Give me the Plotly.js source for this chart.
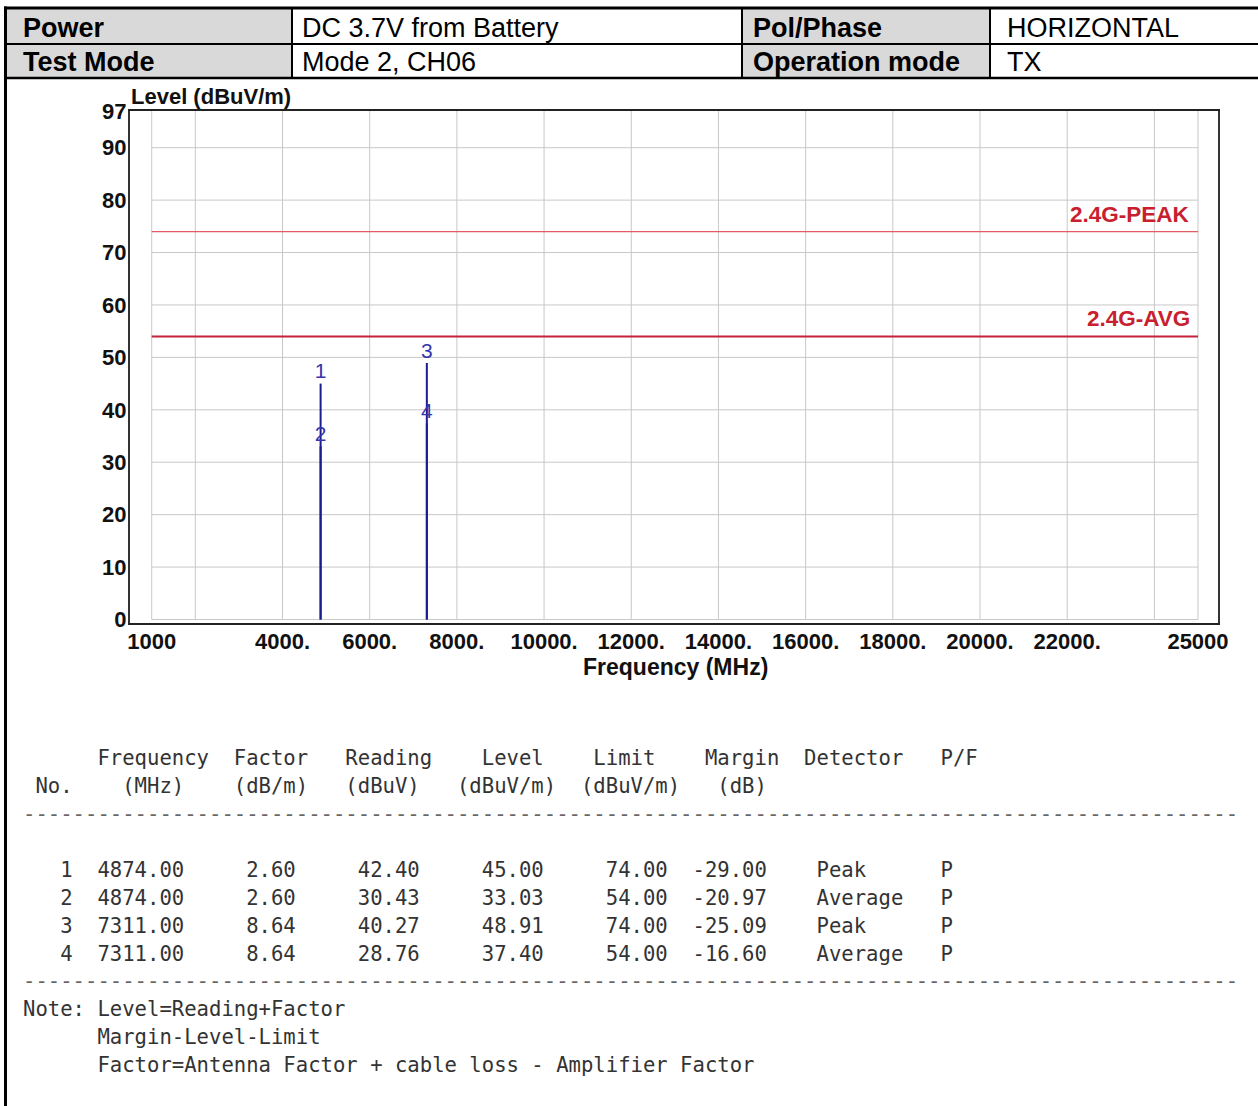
<!DOCTYPE html>
<html><head><meta charset="utf-8">
<script src="https://cdn.plot.ly/plotly-3.0.1.min.js"></script>
<style>html,body{margin:0;padding:0;background:#fff;} #chart{width:1258px;height:1106px;}</style>
</head><body><div id="chart"></div>
<script>
// ---------- data ----------
const markerNo = [1, 2, 3, 4];
const freq = [4874.00, 4874.00, 7311.00, 7311.00];
const factor = [2.60, 2.60, 8.64, 8.64];
const reading = [42.40, 30.43, 40.27, 28.76];
const level = [45.00, 33.03, 48.91, 37.40];
const limit = [74.00, 54.00, 74.00, 54.00];
const margin = [-29.00, -20.97, -25.09, -16.60];
const detector = ['Peak', 'Average', 'Peak', 'Average'];
const pf = ['P', 'P', 'P', 'P'];

const limitNames = ['2.4G-PEAK', '2.4G-AVG'];
const limitLevels = [74, 54];
const freqStart = 1000, freqStop = 25000;

const xTickVals = [1000, 4000, 6000, 8000, 10000, 12000, 14000, 16000, 18000, 20000, 22000, 25000];
const xTickText = ['1000', '4000.', '6000.', '8000.', '10000.', '12000.', '14000.', '16000.', '18000.', '20000.', '22000.', '25000'];
const xGridVals = [1000, 2000, 4000, 6000, 8000, 10000, 12000, 14000, 16000, 18000, 20000, 22000, 24000, 25000];
const yTickVals = [0, 10, 20, 30, 40, 50, 60, 70, 80, 90, 97];
const yTickText = ['0', '10', '20', '30', '40', '50', '60', '70', '80', '90', '97'];

const headerRows = [
  ['Power', 'DC 3.7V from Battery', 'Pol/Phase', 'HORIZONTAL'],
  ['Test Mode', 'Mode 2, CH06', 'Operation mode', 'TX']
];
const tableHead1 = ['Frequency', 'Factor', 'Reading', 'Level', 'Limit', 'Margin', 'Detector', 'P/F'];
const tableHead2 = ['No.', '(MHz)', '(dB/m)', '(dBuV)', '(dBuV/m)', '(dBuV/m)', '(dB)'];
const noteLines = ['Note: Level=Reading+Factor', '      Margin-Level-Limit', '      Factor=Antenna Factor + cable loss - Amplifier Factor'];

// ---------- layout geometry ----------
const W = 1258, H = 1106;
const PL = 130, PR = 1218, PT = 111, PB = 623;
const pw = PR - PL, ph = PB - PT;
const px = v => (v - PL) / pw;
const py = v => (PB - v) / ph;

const sans = 'Liberation Sans, Arial, sans-serif';
const mono = 'DejaVu Sans Mono, Liberation Mono, monospace';

// ---------- traces ----------
const traces = [];
for (let j = 0; j < limitLevels.length; j++) {
  traces.push({
    x: [freqStart, freqStop], y: [limitLevels[j], limitLevels[j]],
    mode: 'lines', hoverinfo: 'skip',
    line: {color: j === 0 ? '#e25c62' : '#c6203a', width: j === 0 ? 1.2 : 2}
  });
}
for (let i = 0; i < freq.length; i++) {
  traces.push({
    x: [freq[i], freq[i]], y: [0, level[i]],
    mode: 'lines', hoverinfo: 'skip',
    line: {color: '#1c1c92', width: 2}
  });
}
traces.push({
  x: freq, y: level, mode: 'text', text: markerNo.map(String),
  textposition: 'top center', hoverinfo: 'skip',
  textfont: {family: sans, size: 21, color: '#3535ae'}
});

// ---------- shapes ----------
const shapes = [];
for (const g of xGridVals) {
  shapes.push({type: 'line', xref: 'x', yref: 'y', x0: g, x1: g, y0: 0, y1: 97, layer: 'below', line: {color: '#c8c8c8', width: 1}});
}
for (const t of yTickVals.slice(0, -1)) {
  shapes.push({type: 'line', xref: 'x', yref: 'y', x0: freqStart, x1: freqStop, y0: t, y1: t, layer: 'below', line: {color: '#c8c8c8', width: 1}});
}

// header table
const colEdges = [6, 292, 742, 990, 1262];
const rowEdges = [9, 44, 78];
for (let r = 0; r < 2; r++) {
  for (const c of [0, 2]) {
    shapes.push({type: 'rect', xref: 'paper', yref: 'paper', x0: px(colEdges[c]), x1: px(colEdges[c + 1]), y0: py(rowEdges[r]), y1: py(rowEdges[r + 1]), fillcolor: '#d9d9d9', line: {width: 0}, layer: 'below'});
  }
}
const blk = (x0, y0, x1, y1, w) => shapes.push({type: 'line', xref: 'paper', yref: 'paper', x0: px(x0), x1: px(x1), y0: py(y0), y1: py(y1), line: {color: '#000', width: w}});
blk(4, 8, 1262, 8, 3);
blk(6, 44, 1262, 44, 2);
blk(6, 78, 1262, 78, 2.5);
for (const c of [292, 742, 990]) blk(c, 8, c, 78, 2);
blk(5.5, 6.5, 5.5, 1110, 3);

// ---------- annotations ----------
const ann = [];
const textX = [21, 300, 751, 1005];
for (let r = 0; r < 2; r++) {
  for (let c = 0; c < 4; c++) {
    ann.push({xref: 'paper', yref: 'paper', x: px(textX[c]), y: py((rowEdges[r] + rowEdges[r + 1]) / 2 + 1), xanchor: 'left', yanchor: 'middle', showarrow: false,
      text: headerRows[r][c], font: {family: sans, size: 27, color: '#000', weight: (c % 2 === 0) ? 'bold' : 'normal'}});
  }
}
// axis titles
ann.push({xref: 'paper', yref: 'paper', x: px(129), y: py(96), xanchor: 'left', yanchor: 'middle', showarrow: false,
  text: '<b>Level (dBuV/m)</b>', font: {family: sans, size: 22, color: '#111'}});
ann.push({xref: 'paper', yref: 'paper', x: px(675), y: py(667), xanchor: 'center', yanchor: 'middle', showarrow: false,
  text: '<b>Frequency (MHz)</b>', font: {family: sans, size: 23, color: '#111'}});
// limit labels
for (let j = 0; j < limitLevels.length; j++) {
  ann.push({xref: 'x', yref: 'y', x: freqStop, y: limitLevels[j], xanchor: 'right', yanchor: 'bottom', xshift: -6, yshift: 3, showarrow: false,
    text: '<b>' + limitNames[j] + '</b>', font: {family: sans, size: 22.5, color: '#c8202e'}});
}

// monospace result table
const X0 = 22;
function put(line, col, s) {
  while (line.length < col) line.push(' ');
  for (let k = 0; k < s.length; k++) line[col + k] = s[k];
  return line;
}
const lines = [];
let l1 = [];
const h1cols = [6, 17, 26, 37, 46, 55, 63, 74];
tableHead1.forEach((s, k) => put(l1, h1cols[k], s));
lines.push({y: 758, t: l1.join('')});
let l2 = [];
const h2cols = [1, 8, 17, 26, 35, 45, 56];
tableHead2.forEach((s, k) => put(l2, h2cols[k], s));
lines.push({y: 786, t: l2.join('')});
const dashes = '-'.repeat(98);
lines.push({y: 814, t: dashes});
for (let i = 0; i < freq.length; i++) {
  let l = [];
  const cells = [
    [String(markerNo[i]), 3], [freq[i].toFixed(2), 12], [factor[i].toFixed(2), 21], [reading[i].toFixed(2), 31],
    [level[i].toFixed(2), 41], [limit[i].toFixed(2), 51], [margin[i].toFixed(2), 59]
  ];
  for (const [s, end] of cells) put(l, end - s.length + 1, s);
  put(l, 64, detector[i]);
  put(l, 74, pf[i]);
  lines.push({y: 870 + i * 28, t: l.join('')});
}
lines.push({y: 981, t: dashes});
noteLines.forEach((s, k) => lines.push({y: 1009 + k * 28, t: s}));
for (const L of lines) {
  ann.push({xref: 'paper', yref: 'paper', x: px(X0), y: py(L.y), xanchor: 'left', yanchor: 'middle', showarrow: false,
    text: L.t.replace(/ /g, '\u00a0'), font: {family: mono, size: 20.6, color: L.t.startsWith('---') ? '#666' : '#333'}, borderpad: 0});
}

const layout = {
  width: W, height: H,
  margin: {l: PL, r: W - PR, t: PT, b: H - PB, pad: 0},
  paper_bgcolor: '#fff', plot_bgcolor: '#fff', showlegend: false,
  xaxis: {range: [502, 25459], tickvals: xTickVals, ticktext: xTickText, showgrid: false, zeroline: false,
    showline: true, mirror: true, linecolor: '#222', linewidth: 2, ticks: '', ticklabelstandoff: -2,
    tickfont: {family: sans, size: 22, color: '#111', weight: 'bold'}, fixedrange: true},
  yaxis: {range: [-0.67, 97], tickvals: yTickVals, ticktext: yTickText, showgrid: false, zeroline: false,
    showline: true, mirror: true, linecolor: '#333', linewidth: 2, ticks: '', ticklabelstandoff: -3,
    tickfont: {family: sans, size: 22, color: '#111', weight: 'bold'}, fixedrange: true},
  shapes: shapes, annotations: ann
};
Plotly.newPlot('chart', traces, layout, {staticPlot: true, displayModeBar: false});
</script></body></html>
